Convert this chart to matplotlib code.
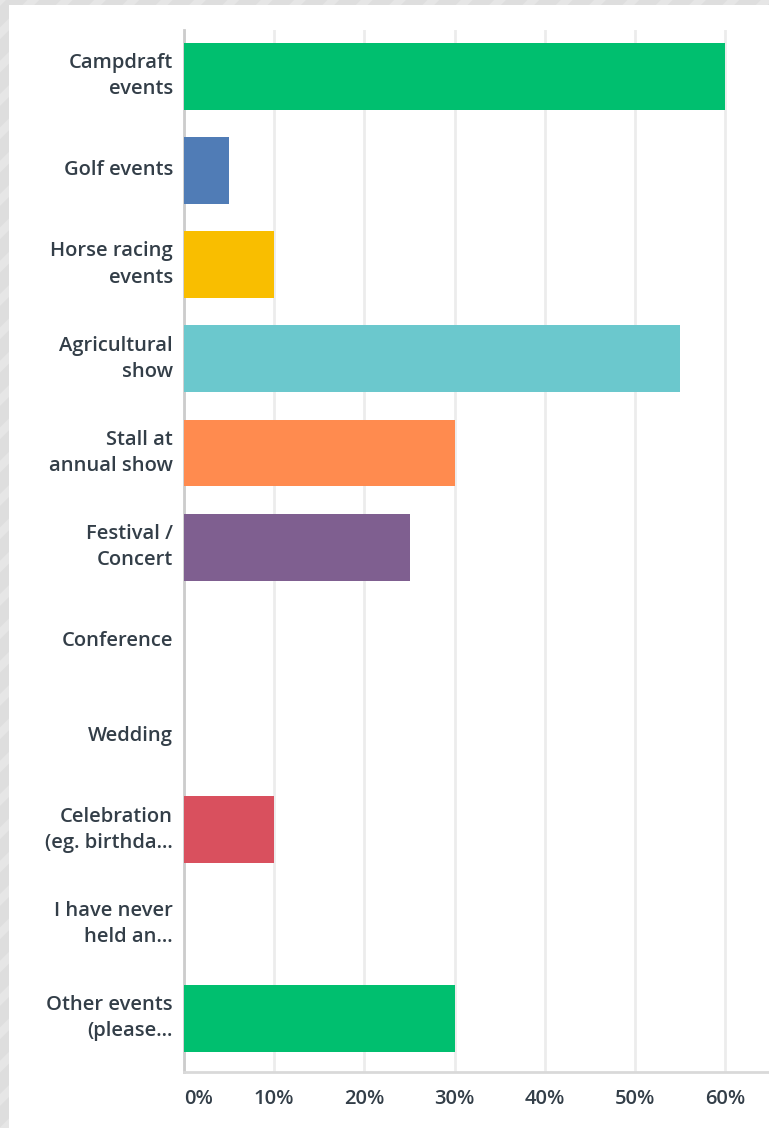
import matplotlib
matplotlib.use("Agg")
from matplotlib import pyplot as plt
from matplotlib.patches import Rectangle
from matplotlib.ticker import FuncFormatter

# survey answers, share of respondents (%)
categories = ["Campdraft\nevents", "Golf events", "Horse racing\nevents",
              "Agricultural\nshow", "Stall at\nannual show", "Festival /\nConcert",
              "Conference", "Wedding", "Celebration\n(eg. birthda...",
              "I have never\nheld an...", "Other events\n(please..."]
percent = [60, 5, 10, 55, 30, 25, 0, 0, 10, 0, 30]
colors = ["#00bf6f", "#507cb6", "#f9be00", "#6bc8cd", "#ff8b4f", "#7f5f90",
          "#00bf6f", "#507cb6", "#d9505e", "#6bc8cd", "#00bf6f"]
xticks = [0, 10, 20, 30, 40, 50, 60]

text_color = "#333e48"
plt.rcParams["font.family"] = ["Open Sans", "DejaVu Sans"]
plt.rcParams["hatch.linewidth"] = 6

W, H = 769, 1128
fig = plt.figure(figsize=(W / 100, H / 100), dpi=100)
fig.patch.set_facecolor("#dedede")

# striped page background with a white card on top
fig.patches.append(Rectangle((0, 0), 1, 1, transform=fig.transFigure,
                             facecolor="#dedede", edgecolor="#e6e6e6",
                             hatch="/", linewidth=0, zorder=-3))
fig.patches.append(Rectangle((9 / W, 0), 1, 1 - 5 / H, transform=fig.transFigure,
                             facecolor="white", edgecolor="none", zorder=-2))

left, right, top, bottom = 184, 769, 30, 1072
ax = fig.add_axes([left / W, 1 - bottom / H, (right - left) / W, (bottom - top) / H])
ax.set_facecolor("none")

pos = list(range(len(categories)))
ax.barh(pos, percent, height=0.71, color=colors, zorder=3)

ax.set_ylim(len(categories) - 1 + 0.57, -0.49)
ax.set_xlim(0, (right - left) / 9.02)

ax.set_yticks(pos)
ax.set_yticklabels(categories, fontsize=14.5, fontweight="semibold", color=text_color,
                   linespacing=1.42, va="center")
ax.set_xticks(xticks)
ax.xaxis.set_major_formatter(FuncFormatter(lambda v, p: f"{v:.0f}%"))
for lab in ax.get_xticklabels():
    lab.set_fontsize(14.5)
    lab.set_fontweight("semibold")
    lab.set_color(text_color)
ax.get_xticklabels()[0].set_horizontalalignment("left")

ax.tick_params(axis="y", length=0, pad=8)
ax.tick_params(axis="x", length=0, pad=12)

ax.grid(axis="x", color="#ececec", linewidth=2, zorder=0)
for s in ["top", "right"]:
    ax.spines[s].set_visible(False)
ax.spines["left"].set_color("#cccccc")
ax.spines["left"].set_linewidth(2)
ax.spines["bottom"].set_color("#d9d9d9")
ax.spines["bottom"].set_linewidth(2)

fig.savefig("out.png", dpi=100)
